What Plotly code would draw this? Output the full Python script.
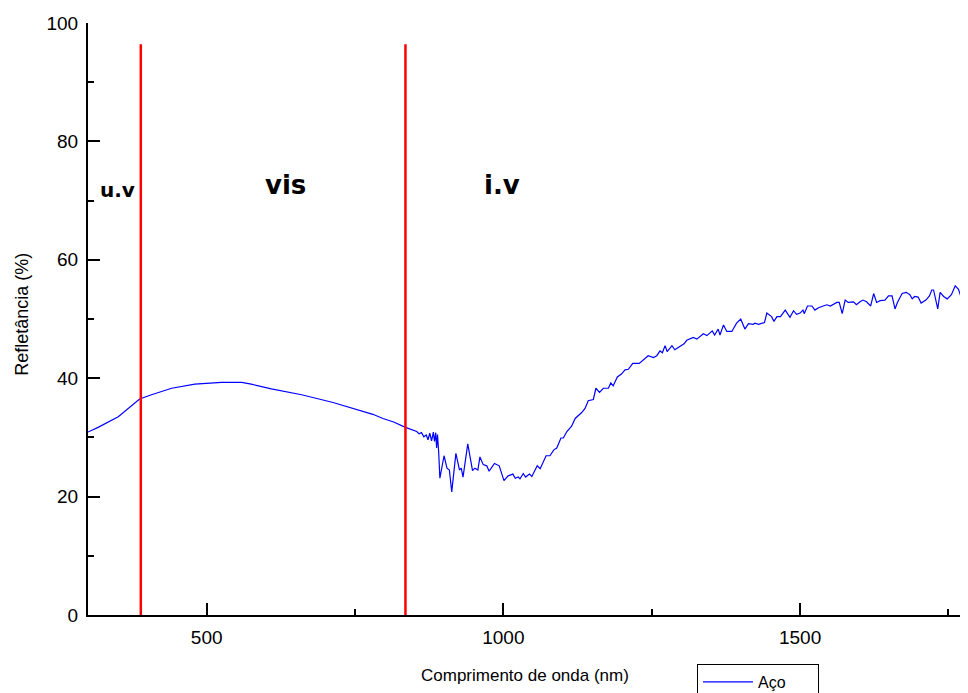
import plotly.graph_objects as go

# Wavelength (nm) and reflectance (%)
wavelength = [300, 317, 351, 367, 387, 407, 441, 480, 525, 559, 575, 609, 660, 713, 758,
              780, 797, 815, 835, 845, 850, 854, 858, 862, 866, 870, 873, 876, 879, 882,
              884, 886, 887.5, 889, 891, 893, 900, 905, 909, 913, 920, 926, 929, 932,
              940, 948, 952, 957, 960.5, 966, 972, 976, 985, 993, 1001, 1008, 1016, 1020,
              1025, 1028, 1033.5, 1037.5, 1044, 1048, 1057, 1062, 1072, 1078.5, 1085, 1090,
              1097, 1101, 1107, 1115, 1121, 1126, 1132, 1137.6, 1143, 1151.6, 1156, 1162,
              1168.5, 1177, 1181, 1185, 1192, 1199, 1205, 1210.6, 1218, 1229, 1236, 1244,
              1253, 1258.5, 1264, 1268, 1272.5, 1276, 1284, 1289, 1298, 1304.5, 1309, 1320,
              1326, 1331, 1337, 1343, 1348, 1352, 1356, 1362, 1365, 1371, 1376.5, 1385,
              1393, 1400, 1407, 1413, 1421, 1424, 1430, 1436, 1440, 1444, 1452, 1456, 1461,
              1467, 1475, 1483, 1489, 1494, 1500, 1505, 1507, 1512.5, 1520, 1525, 1531,
              1539, 1545, 1551, 1556, 1562, 1566, 1571, 1576, 1581, 1590, 1595, 1601, 1606,
              1612, 1619, 1624, 1629, 1635, 1643, 1649, 1655, 1660, 1664, 1672, 1679, 1685,
              1689, 1693, 1699, 1704, 1712, 1718, 1722, 1725, 1732, 1736, 1742, 1748, 1755,
              1761.5, 1767, 1773, 1777, 1780, 1783, 1790]
reflectance = [30.9, 31.7, 33.5, 34.9, 36.5, 37.2, 38.3, 39.0, 39.3, 39.3, 39.0, 38.2, 37.2, 35.9, 34.6,
               33.9, 33.2, 32.6, 31.7, 31.4, 31.2, 31.0, 30.6, 30.8, 30.1, 30.4, 29.6, 30.7, 29.4, 30.9,
               29.3, 30.8, 28.2, 30.5, 27.5, 23.1, 26.9, 24.8, 24.5, 20.8, 27.3, 24.5, 24.8, 23.3,
               28.9, 24.4, 24.8, 24.5, 26.7, 25.4, 25.2, 24.3, 25.6, 25.2, 22.7, 23.5, 23.8, 23.1,
               23.3, 23.0, 23.9, 23.3, 23.8, 23.4, 25.2, 24.7, 26.9, 26.9, 27.9, 28.2,
               29.9, 29.9, 31.0, 31.9, 33.2, 33.6, 34.2, 34.9, 36.2, 36.4, 38.3, 37.6,
               38.3, 38.3, 39.2, 38.7, 40.2, 40.7, 41.4, 41.5, 42.5, 42.5, 43.1, 43.8,
               43.5, 43.8, 44.6, 44.3, 45.5, 44.5, 45.5, 44.8, 45.4, 45.8, 46.4, 46.9,
               46.6, 47.0, 47.5, 47.2, 47.7, 48.0, 47.3, 48.3, 47.3, 49.0, 47.9, 47.9,
               49.3, 50.0, 48.3, 49.2, 49.1, 49.3, 49.1, 49.3, 49.4, 51.0, 50.4, 49.6, 50.4,
               50.4, 51.5, 50.3, 51.4, 50.8, 51.0, 51.5, 50.9, 52.2, 52.2, 51.5, 51.9,
               52.2, 52.4, 52.2, 52.5, 52.8, 52.8, 50.9, 53.2, 52.8, 52.9, 52.4, 52.9, 53.2,
               52.9, 52.2, 54.3, 52.8, 53.1, 53.2, 53.9, 53.9, 51.7, 52.8, 54.3, 54.5, 54.1,
               53.4, 53.8, 53.7, 52.7, 53.2, 53.9, 54.9, 54.9, 51.7, 54.5, 53.8, 53.4, 54.1,
               55.6, 55.0, 53.2, 54.5, 52.8, 53.2, 53.5]

series_name = "Aço"
region_bounds = [389, 835]
region_labels = ["u.v", "vis", "i.v"]
region_label_x = [350, 632, 997]
region_label_y = [71.8, 72.6, 72.6]
region_label_size = [20, 26, 26]
x_title = "Comprimento de onda (nm)"
y_title = "Refletância (%)"

fig = go.Figure()
fig.add_trace(go.Scatter(x=wavelength, y=reflectance, mode="lines", name=series_name,
                         line=dict(color="#0000ff", width=1.2), showlegend=True))

for xb in region_bounds:
    fig.add_shape(type="line", xref="x", yref="y", x0=xb, x1=xb, y0=-1, y1=96.4,
                  line=dict(color="#ff0000", width=2.5), layer="above")

for lab, lx, ly, ls in zip(region_labels, region_label_x, region_label_y, region_label_size):
    fig.add_annotation(x=lx, y=ly, xref="x", yref="y", text=lab, showarrow=False,
                       font=dict(family="DejaVu Sans", size=ls, color="black", weight="bold"))

tick_font = dict(family="Liberation Sans, Arial", size=19, color="black")
fig.add_annotation(x=0.4966, y=-0.103, xref="paper", yref="paper", text=x_title, showarrow=False,
                   xanchor="center", yanchor="middle",
                   font=dict(family="Liberation Sans, Arial", size=17, color="black"))
fig.add_annotation(x=-0.075, y=0.507, xref="paper", yref="paper", text=y_title, showarrow=False,
                   textangle=-90, xanchor="center", yanchor="middle",
                   font=dict(family="Liberation Sans, Arial", size=18, color="black"))

fig.update_xaxes(range=[300, 1783], showgrid=False, zeroline=False, showline=True, linecolor="black",
                 linewidth=2, ticks="inside", ticklen=12, tickwidth=2, tickcolor="black",
                 tick0=0, dtick=500, tickfont=tick_font, ticklabelstandoff=4,
                 minor=dict(ticks="inside", ticklen=6, tickwidth=2, tickcolor="black", dtick=250, tick0=0))
fig.update_yaxes(range=[0, 100], showgrid=False, zeroline=False, showline=True, linecolor="black",
                 linewidth=2, ticks="inside", ticklen=12, tickwidth=2, tickcolor="black",
                 tick0=0, dtick=20, tickfont=tick_font, ticklabelstandoff=4,
                 minor=dict(ticks="inside", ticklen=6, tickwidth=2, tickcolor="black", dtick=10, tick0=0))

fig.update_layout(width=960, height=685, margin=dict(l=80, r=0, t=15, b=78, autoexpand=False),
                  plot_bgcolor="white", paper_bgcolor="white",
                  legend=dict(x=0.692, y=-0.0828, xanchor="left", yanchor="top", orientation="h",
                              entrywidth=55, bordercolor="black", borderwidth=1, bgcolor="white",
                              itemwidth=50,
                              font=dict(family="Liberation Sans, Arial", size=16, color="black")))

fig.write_html("out.html")
